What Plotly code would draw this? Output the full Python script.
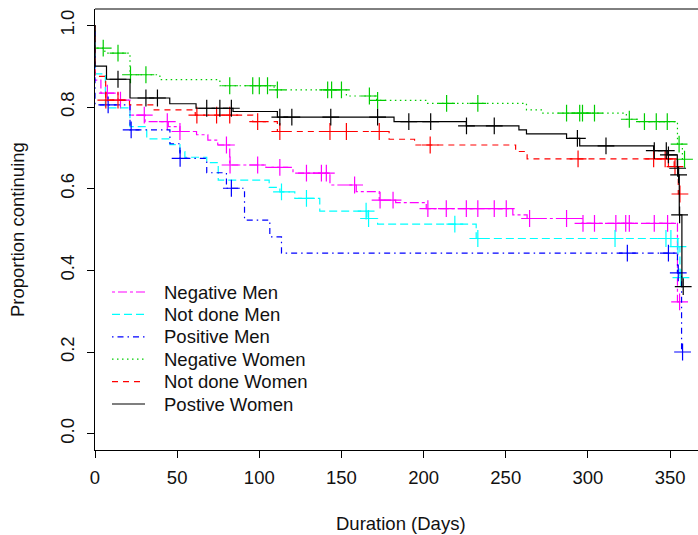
import bisect
import plotly.graph_objects as go

# ---------------- data ----------------
group_names = ["Negative Men", "Not done Men", "Positive Men",
               "Negative Women", "Not done Women", "Postive Women"]

# step times (days) and survival just after each step; censor times
nm_t = [0, 3.6, 14, 21.3, 30.5, 44.6, 51.7, 61.8, 68.7, 74.7, 82, 104, 120.5, 143, 159, 173, 183, 201.6, 254.3, 263, 296.5, 354.5]
nm_s = [0.866, 0.834, 0.817, 0.780, 0.764, 0.752, 0.740, 0.732, 0.719, 0.707, 0.658, 0.652, 0.638, 0.609, 0.593, 0.572, 0.566, 0.551, 0.536, 0.527, 0.515, 0.323]
nm_c = [7.5, 15.5, 30, 44.0, 51.7, 80, 82.2, 99, 112.5, 128.7, 137.8, 140.8, 158, 173.5, 181.4, 202.6, 213.8, 226, 233, 243, 250.3, 264.5, 287, 297, 304, 317, 323, 325.2, 340.4, 348.5, 355.8]

ndm_t = [0, 6.3, 21.3, 31.5, 45.6, 51.7, 54.7, 68, 75, 106, 112.5, 121.6, 136.8, 165.5, 172, 232, 354.5, 356]
ndm_s = [0.881, 0.798, 0.752, 0.722, 0.708, 0.691, 0.677, 0.664, 0.621, 0.603, 0.592, 0.576, 0.545, 0.527, 0.513, 0.478, 0.458, 0.382]
ndm_c = [113.5, 128.7, 165, 166.5, 219, 233, 316.5, 347.5, 350.5, 354.8, 356.6]

pm_t = [0, 21.3, 45.6, 51.7, 68, 80, 91, 106.4, 113.5, 354.5, 357]
pm_s = [0.805, 0.744, 0.710, 0.674, 0.639, 0.601, 0.523, 0.482, 0.442, 0.394, 0.200]
pm_c = [8, 22, 51.8, 83, 324, 349, 355, 357.6]

nw_t = [0, 6, 21.3, 39.5, 76, 109, 153, 171.4, 202, 262.6, 271.7, 323.4, 330, 354.5, 357.5]
nw_s = [0.944, 0.932, 0.879, 0.867, 0.852, 0.842, 0.827, 0.816, 0.809, 0.793, 0.785, 0.770, 0.764, 0.709, 0.672]
nw_c = [5, 14, 21.6, 31, 82, 96, 100, 105, 111, 141.6, 144, 150, 167, 172, 214, 233, 287, 295, 296.7, 304, 325.2, 334.4, 341.6, 348.3, 355.5, 358.8]

ndw_t = [0, 6.5, 21, 36, 61, 96, 111, 179, 194.5, 256, 263, 352.5, 355]
ndw_s = [0.875, 0.817, 0.805, 0.793, 0.780, 0.764, 0.740, 0.721, 0.707, 0.691, 0.673, 0.654, 0.587]
ndw_c = [6.6, 14, 62, 74, 82, 99, 112.5, 143, 153, 173, 204, 294, 340, 347, 349, 353, 356]

pw_t = [0, 7, 21.3, 45.5, 61.5, 84, 111, 182, 226, 258, 262.6, 287, 295, 340, 348.6, 354.4, 355, 355.6, 357.2]
pw_s = [0.900, 0.868, 0.822, 0.808, 0.797, 0.789, 0.775, 0.764, 0.754, 0.744, 0.734, 0.723, 0.705, 0.693, 0.683, 0.650, 0.634, 0.536, 0.360]
pw_c = [14, 31, 38, 68, 76, 83, 112.5, 119.8, 143.5, 172, 191, 204.3, 226.1, 243, 293.6, 311, 340.4, 347.7, 349, 354.6, 355.2, 355.8, 358]

x_ticks = [0, 50, 100, 150, 200, 250, 300, 350]
y_ticks = [0.0, 0.2, 0.4, 0.6, 0.8, 1.0]
y_tick_labels = ["0.0", "0.2", "0.4", "0.6", "0.8", "1.0"]

# ---------------- styles ----------------
colors = ["#FF00FF", "#00FFFF", "#0000FF", "#00CD00", "#FF0000", "#000000"]
dashes = ["3px,3px,9px,3px", "8px,4px", "1.5px,4px,6px,4px", "1.5px,3.5px", "6px,5px", "solid"]

series = [(nm_t, nm_s, nm_c), (ndm_t, ndm_s, ndm_c), (pm_t, pm_s, pm_c),
          (nw_t, nw_s, nw_c), (ndw_t, ndw_s, ndw_c), (pw_t, pw_s, pw_c)]

FONT = "Liberation Sans, Arial, sans-serif"
FS = 18.5
TXT = "#111"

# plot-area geometry in pixels (for placing titles / legend in paper coords)
L, R, T, B = 95, 698, 9, 450
W, H = R - L, B - T


def px(xp):
    return (xp - L) / W


def py(yp):
    return (B - yp) / H


fig = go.Figure()
for name, (t, s, c), col, dash in zip(group_names, series, colors, dashes):
    end = max(max(c), t[-1])
    xs = [0] + list(t) + [end]
    ys = [1.0] + list(s) + [s[-1]]
    fig.add_trace(go.Scatter(x=xs, y=ys, mode="lines", name=name, showlegend=False,
                             line=dict(color=col, width=1.2, dash=dash, shape="hv")))
    cy = [s[bisect.bisect_right(t, ct) - 1] for ct in c]
    fig.add_trace(go.Scatter(x=c, y=cy, mode="markers", showlegend=False, hoverinfo="skip",
                             name=name + " (censored)",
                             marker=dict(symbol="cross-thin", size=12,
                                         line=dict(color=col, width=1.2))))

# legend (R-style, no box)
shapes = [dict(type="line", xref="paper", yref="paper", x0=0, x1=1, y0=1, y1=1,
               line=dict(color="#000", width=1))]
annotations = []
for i, (name, col, dash) in enumerate(zip(group_names, colors, dashes)):
    yrow = 292 + 22.4 * i
    shapes.append(dict(type="line", xref="paper", yref="paper",
                       x0=px(112), x1=px(145), y0=py(yrow), y1=py(yrow),
                       line=dict(color=col, width=1.2, dash=dash)))
    annotations.append(dict(text=name, xref="paper", yref="paper", x=px(162), y=py(yrow),
                            xanchor="left", yanchor="middle", showarrow=False,
                            font=dict(family=FONT, size=FS, color=TXT)))

annotations += [
    dict(text="Duration (Days)", xref="paper", yref="paper", x=px(401), y=py(523),
         xanchor="center", yanchor="middle", showarrow=False,
         font=dict(family=FONT, size=FS, color=TXT)),
    dict(text="Proportion continuing", xref="paper", yref="paper", x=px(18), y=py(230),
         xanchor="center", yanchor="middle", showarrow=False, textangle=-90,
         font=dict(family=FONT, size=FS, color=TXT)),
]

fig.update_layout(
    width=698, height=535,
    margin=dict(l=L, r=698 - R, t=T, b=535 - B),
    paper_bgcolor="white", plot_bgcolor="white",
    font=dict(family=FONT, size=FS, color=TXT),
    showlegend=False,
    xaxis=dict(range=[0, 367], tickvals=x_ticks, ticks="outside", ticklen=7,
               tickcolor="#000", showline=True, linecolor="#000", linewidth=1,
               showgrid=False, zeroline=False, tickfont=dict(size=FS, color=TXT),
               ticklabelstandoff=4),
    yaxis=dict(range=[-0.04, 1.04], tickvals=y_ticks, ticktext=y_tick_labels,
               ticks="outside", ticklen=7, tickcolor="#000", tickangle=-90,
               showline=True, linecolor="#000", linewidth=1,
               showgrid=False, zeroline=False, tickfont=dict(size=FS, color=TXT),
               ticklabelstandoff=6),
    shapes=shapes,
    annotations=annotations,
)

fig.write_html("out.html")
